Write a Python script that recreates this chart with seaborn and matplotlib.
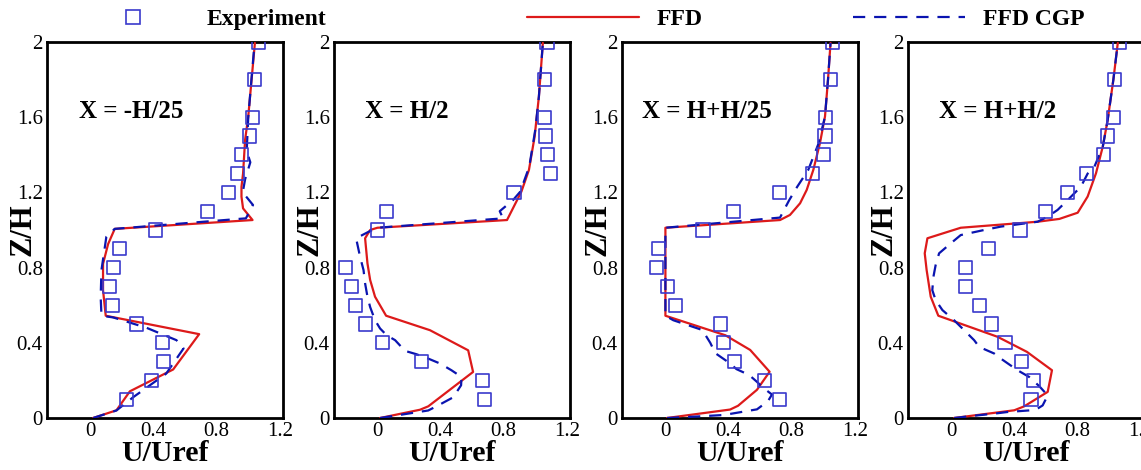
import numpy as np
import pandas as pd
import matplotlib
matplotlib.use("Agg")
import matplotlib.pyplot as plt
from matplotlib.lines import Line2D
from matplotlib.ticker import MultipleLocator, FuncFormatter
import seaborn as sns

# ---------------- data ----------------
panel_titles = ["X = -H/25", "X = H/2", "X = H+H/25", "X = H+H/2"]

z_exp = [0.1, 0.2, 0.3, 0.4, 0.5, 0.6, 0.7, 0.8, 0.9, 1.0,
         1.1, 1.2, 1.3, 1.4, 1.5, 1.6, 1.8, 2.0]
z_exp_p2 = [0.1, 0.2, 0.3, 0.4, 0.5, 0.6, 0.7, 0.8, 1.0,
            1.1, 1.2, 1.3, 1.4, 1.5, 1.6, 1.8, 2.0]

exp_p1 = [0.228, 0.387, 0.465, 0.456, 0.292, 0.139, 0.123, 0.144, 0.186, 0.412,
          0.740, 0.873, 0.932, 0.957, 1.006, 1.025, 1.042, 1.063]
exp_p2 = [0.676, 0.665, 0.278, 0.032, -0.074, -0.137, -0.166, -0.200, 0.002,
          0.059, 0.865, 1.097, 1.076, 1.063, 1.059, 1.059, 1.074]
exp_p3 = [0.722, 0.627, 0.438, 0.368, 0.347, 0.065, 0.015, -0.057, -0.046, 0.238,
          0.432, 0.722, 0.933, 1.000, 1.011, 1.015, 1.048, 1.057]
exp_p4 = [0.504, 0.520, 0.444, 0.339, 0.256, 0.176, 0.087, 0.087, 0.233, 0.434,
          0.595, 0.737, 0.857, 0.963, 0.990, 1.026, 1.033, 1.065]

# FFD profiles
ffd_z_p1 = [0, 0.041, 0.142, 0.2, 0.258, 0.446, 0.544, 0.68, 0.82, 0.925, 1.006,
            1.053, 1.115, 1.177, 1.23, 1.30, 1.48, 1.604, 1.80, 1.995]
ffd_u_p1 = [0.017, 0.165, 0.25, 0.387, 0.524, 0.689, 0.097, 0.080, 0.080, 0.112, 0.154,
            1.027, 0.967, 0.957, 0.957, 0.967, 0.98, 1.0, 1.021, 1.042]

ffd_z_p2 = [0, 0.044, 0.062, 0.245, 0.36, 0.467, 0.544, 0.645, 0.734, 0.822, 0.956,
            1.0, 1.012, 1.053, 1.204, 1.32, 1.497, 1.71, 1.995]
ffd_u_p2 = [0.017, 0.27, 0.322, 0.606, 0.575, 0.333, 0.055, -0.015, -0.046, -0.063, -0.078,
            -0.046, 0.0, 0.821, 0.912, 0.96, 0.996, 1.023, 1.048]

ffd_z_p3 = [0, 0.045, 0.065, 0.15, 0.246, 0.362, 0.44, 0.544, 1.012, 1.053, 1.08,
            1.142, 1.213, 1.32, 1.462, 1.604, 1.8, 1.995]
ffd_u_p3 = [0.01, 0.41, 0.46, 0.58, 0.66, 0.537, 0.38, 0.0, 0.0, 0.726, 0.789,
            0.853, 0.895, 0.937, 0.979, 1.011, 1.03, 1.046]

ffd_z_p4 = [0, 0.041, 0.062, 0.139, 0.254, 0.352, 0.432, 0.544, 0.645, 0.787, 0.876,
            0.956, 1.012, 1.044, 1.059, 1.092, 1.178, 1.302, 1.444, 1.586, 1.8, 1.995]
ffd_u_p4 = [0.017, 0.398, 0.461, 0.61, 0.637, 0.478, 0.292, -0.083, -0.131, -0.157, -0.169,
            -0.152, 0.059, 0.546, 0.684, 0.8, 0.863, 0.916, 0.959, 0.99, 1.026, 1.054]

# FFD CGP profiles
cgp_z_p1 = [0, 0.04, 0.11, 0.236, 0.37, 0.414, 0.48, 0.535, 0.544, 0.645, 0.787, 0.964,
            1.006, 1.062, 1.133, 1.20, 1.27, 1.36, 1.42, 1.60, 1.80, 1.995]
cgp_u_p1 = [0.017, 0.165, 0.27, 0.48, 0.59, 0.545, 0.355, 0.144, 0.07, 0.065, 0.07, 0.101,
            0.154, 0.985, 1.03, 0.965, 0.98, 1.013, 0.99, 1.0, 1.02, 1.04]

cgp_z_p2 = [0, 0.04, 0.067, 0.11, 0.174, 0.218, 0.254, 0.29, 0.316, 0.339, 0.357, 0.414,
            0.44, 0.476, 0.52, 0.59, 0.645, 0.716, 0.787, 0.858, 0.956, 0.99, 1.012,
            1.062, 1.10, 1.16, 1.204, 1.337, 1.533, 1.71, 1.995]
cgp_u_p2 = [0.017, 0.322, 0.385, 0.48, 0.53, 0.533, 0.469, 0.396, 0.322, 0.248, 0.175, 0.112,
            0.059, 0.017, -0.015, -0.046, -0.063, -0.078, -0.088, -0.11, -0.135, -0.057, 0.0,
            0.796, 0.775, 0.86, 0.905, 0.962, 1.0, 1.023, 1.048]

cgp_z_p3 = [0, 0.008, 0.016, 0.046, 0.09, 0.125, 0.16, 0.193, 0.229, 0.26, 0.29, 0.345,
            0.40, 0.468, 0.52, 0.544, 1.012, 1.066, 1.16, 1.23, 1.32, 1.46, 1.604, 1.8, 1.995]
cgp_u_p3 = [0.01, 0.2, 0.37, 0.58, 0.65, 0.675, 0.62, 0.579, 0.53, 0.45, 0.41, 0.316,
            0.284, 0.234, 0.05, 0.0, 0.0, 0.726, 0.785, 0.835, 0.905, 0.97, 1.011, 1.03, 1.046]

cgp_z_p4 = [0, 0.014, 0.023, 0.032, 0.041, 0.05, 0.067, 0.12, 0.169, 0.218, 0.254, 0.316,
            0.343, 0.378, 0.414, 0.485, 0.52, 0.574, 0.627, 0.68, 0.751, 0.813, 0.876,
            0.929, 0.973, 1.0, 1.018, 1.044, 1.071, 1.107, 1.16, 1.23, 1.30, 1.337,
            1.444, 1.586, 1.8, 1.995]
cgp_u_p4 = [0.017, 0.165, 0.27, 0.356, 0.504, 0.546, 0.578, 0.61, 0.557, 0.493, 0.419, 0.313,
            0.271, 0.176, 0.144, 0.059, 0.017, -0.057, -0.1, -0.121, -0.114, -0.1, -0.078,
            -0.004, 0.059, 0.207, 0.313, 0.546, 0.61, 0.673, 0.737, 0.82, 0.863, 0.906,
            0.959, 0.99, 1.026, 1.054]

exp_sets = [(z_exp, exp_p1), (z_exp_p2, exp_p2), (z_exp, exp_p3), (z_exp, exp_p4)]
ffd_sets = [(ffd_z_p1, ffd_u_p1), (ffd_z_p2, ffd_u_p2), (ffd_z_p3, ffd_u_p3), (ffd_z_p4, ffd_u_p4)]
cgp_sets = [(cgp_z_p1, cgp_u_p1), (cgp_z_p2, cgp_u_p2), (cgp_z_p3, cgp_u_p3), (cgp_z_p4, cgp_u_p4)]

# ---------------- style ----------------
sns.set_style("white")
plt.rcParams["font.family"] = ["Liberation Serif", "DejaVu Serif"]
plt.rcParams["axes.linewidth"] = 2.0
plt.rcParams["text.color"] = "black"
plt.rcParams["axes.labelcolor"] = "black"
plt.rcParams["xtick.color"] = "black"
plt.rcParams["ytick.color"] = "black"

RED = "#dd1a1a"
DASH_BLUE = "#0a14b0"
SQ_BLUE = "#3a3acc"

fig = plt.figure(figsize=(11.41, 4.70), dpi=100)
lefts = [47, 334, 622, 908]
width_px = 236
title_x = [0.136, 0.131, 0.085, 0.131]

fmt = FuncFormatter(lambda v, p: f"{v:g}")

for i in range(4):
    ax = fig.add_axes([lefts[i] / 1141, 52 / 470, width_px / 1141, 376 / 470])
    ez, eu = exp_sets[i]
    fz, fu = ffd_sets[i]
    cz, cu = cgp_sets[i]

    df_f = pd.DataFrame({"U": fu, "Z": fz})
    df_c = pd.DataFrame({"U": cu, "Z": cz})
    df_e = pd.DataFrame({"U": eu, "Z": ez})

    sns.lineplot(data=df_f, x="U", y="Z", sort=False, estimator=None,
                 color=RED, lw=1.6, ax=ax, zorder=3)
    sns.lineplot(data=df_c, x="U", y="Z", sort=False, estimator=None,
                 color=DASH_BLUE, lw=1.6, linestyle=(0, (5.5, 4.0)), ax=ax, zorder=4)
    sns.scatterplot(data=df_e, x="U", y="Z", marker="s", s=90,
                    facecolor="none", edgecolor=SQ_BLUE, linewidth=1.2, ax=ax, zorder=5)

    ax.set_xlim(-0.275, 1.22)
    ax.set_ylim(0, 2)
    ax.xaxis.set_major_locator(MultipleLocator(0.4))
    ax.xaxis.set_minor_locator(MultipleLocator(0.2))
    ax.yaxis.set_major_locator(MultipleLocator(0.4))
    ax.yaxis.set_minor_locator(MultipleLocator(0.2))
    ax.xaxis.set_major_formatter(fmt)
    ax.yaxis.set_major_formatter(fmt)
    ax.tick_params(which="both", direction="in", top=False, right=False,
                   labelsize=15, width=1.2, pad=3, colors="black")
    ax.tick_params(which="major", length=5)
    ax.tick_params(which="minor", length=3.5)
    for s in ax.spines.values():
        s.set_linewidth(2.0)
        s.set_color("black")

    ax.set_xlabel("U/Uref", fontsize=21.5, fontweight="bold", color="black")
    ax.set_ylabel("Z/H", fontsize=22, fontweight="bold", color="black")
    ax.xaxis.set_label_coords(0.5, -0.058)
    ax.yaxis.set_label_coords(-0.04, 0.5)

    ax.text(title_x[i], 0.816, panel_titles[i], transform=ax.transAxes,
            fontsize=18, fontweight="bold", ha="left", va="center", color="black")

# ---------------- legend ----------------
h_exp = Line2D([], [], ls="none", marker="s", markersize=9.5, markerfacecolor="none",
               markeredgecolor=SQ_BLUE, markeredgewidth=1.2)
h_ffd = Line2D([], [], color=RED, lw=1.6)
h_cgp = Line2D([], [], color=DASH_BLUE, lw=1.6, ls=(0, (5.5, 4.0)))

leg_items = [(h_exp, "Experiment", 77), (h_ffd, "FFD", 527), (h_cgp, "FFD CGP", 853)]
for h, lab, x0 in leg_items:
    leg = fig.legend([h], [lab], loc="center left", bbox_to_anchor=(x0 / 1141, 451 / 470),
                     frameon=False, borderpad=0, borderaxespad=0, handlelength=4.75,
                     handletextpad=0.76,
                     prop={"family": "Liberation Serif", "weight": "bold", "size": 17})
    for t in leg.get_texts():
        t.set_color("black")

fig.savefig("out.png", dpi=100)
